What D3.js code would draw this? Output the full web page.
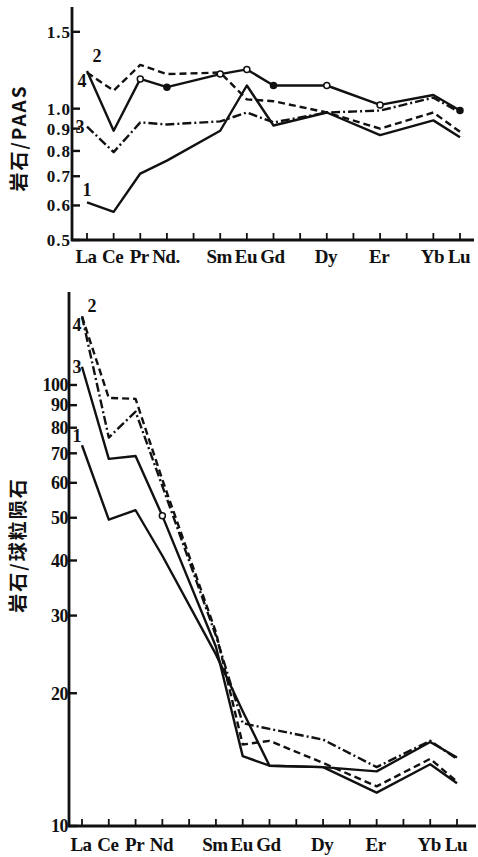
<!DOCTYPE html>
<html><head><meta charset="utf-8">
<script src="https://cdn.jsdelivr.net/npm/d3@7"></script>
<style>
html,body{margin:0;padding:0;background:#fff;}
svg{display:block;}
text{font-family:"Liberation Serif","DejaVu Serif",serif;font-weight:bold;fill:#111;}
</style></head>
<body>
<svg id="c" width="478" height="857"></svg>
<script>
// ---- data ----
const elements = ["La","Ce","Pr","Nd","Pm","Sm","Eu","Gd","Tb","Dy","Ho","Er","Tm","Yb","Lu"];
const topTickLabels = ["La","Ce","Pr","Nd.","","Sm","Eu","Gd","","Dy","","Er","","Yb","Lu"];
const botTickLabels = ["La","Ce","Pr","Nd","","Sm","Eu","Gd","","Dy","","Er","","Yb","Lu"];
const plotted = ["La","Ce","Pr","Nd","Sm","Eu","Gd","Dy","Er","Yb","Lu"];

const topTicks = [0.5,0.6,0.7,0.8,0.9,1.0,1.5];
const topTickText = ["0.5","0.6","0.7","0.8","0.9","1.0","1.5"];
const botTicks = [10,20,30,40,50,60,70,80,90,100];

// top panel: rock / PAAS
const top1 = [0.61,0.58,0.71,0.76,0.89,1.13,0.915,0.98,0.87,0.94,0.86];
const top2 = [1.21,1.10,1.26,1.20,1.21,1.05,1.04,0.98,0.90,0.98,0.885];
const top3 = [0.91,0.795,0.93,0.92,0.935,0.98,0.93,0.98,0.99,1.06,0.98];
const top4 = [1.22,0.89,1.17,1.12,1.20,1.23,1.13,1.13,1.02,1.075,0.99];
const top4Markers = ["Pr","Nd","Sm","Eu","Gd","Dy","Er","Lu"];

// bottom panel: rock / chondrite
const bot1 = [73,49.5,52,41,24.5,18.2,13.7,13.6,11.9,13.8,12.5];
const bot2 = [143,93.5,93,61,27.5,15.3,15.6,13.9,12.3,14.2,12.6];
const bot3 = [110,68,69,50.5,25.5,14.4,13.7,13.6,13.3,15.5,14.3];
const bot4 = [143,76,87,59,27,17.1,16.6,15.7,13.6,15.6,14.2];
const bot3Markers = ["Nd"];

const seriesNames = ["1","2","3","4"];

// ---- drawing ----
const svg = d3.select("#c");
const styles = {
  solid: null,
  dashed: "7,4",
  dashdot: "9,3,2,3"
};

function panel(cfg){
  const g = svg.append("g");
  const x = d3.scaleLinear().domain([0, elements.length-1]).range(cfg.xr);
  const y = d3.scaleLog().domain(cfg.yd).range(cfg.yr);
  const xi = e => x(elements.indexOf(e));

  // axes lines
  g.append("line").attr("x1",cfg.ax).attr("x2",cfg.ax).attr("y1",cfg.yr[1]).attr("y2",cfg.yr[0]+1)
    .attr("stroke","#111").attr("stroke-width",2.8);
  g.append("line").attr("x1",cfg.ax-1).attr("x2",cfg.xEnd).attr("y1",cfg.yr[0]).attr("y2",cfg.yr[0])
    .attr("stroke","#111").attr("stroke-width",2.8);

  // y ticks (inward)
  cfg.yt.forEach((v,i)=>{
    const yy = y(v);
    g.append("line").attr("x1",cfg.ax).attr("x2",cfg.ax+8).attr("y1",yy).attr("y2",yy)
      .attr("stroke","#111").attr("stroke-width",2.4);
    g.append("text").attr("x",cfg.ax-1).attr("y",yy).attr("dy","0.35em")
      .attr("text-anchor","end").attr("font-size",cfg.yfs).style("letter-spacing",cfg.yls)
      .text(cfg.ytText[i]);
  });

  // x ticks (inward, up)
  elements.forEach((e,i)=>{
    const xx = x(i);
    g.append("line").attr("x1",xx).attr("x2",xx).attr("y1",cfg.yr[0]).attr("y2",cfg.yr[0]-7)
      .attr("stroke","#111").attr("stroke-width",1.8);
    if(cfg.xl[i]) g.append("text").attr("x",xx - 1).attr("y",cfg.yr[0]+cfg.xlOff)
      .attr("text-anchor","middle").attr("font-size",19).style("letter-spacing","-0.5px").text(cfg.xl[i]);
  });

  // y label
  g.append("text").attr("transform",`translate(${cfg.ylx},${cfg.yly}) rotate(-90)`)
    .attr("text-anchor","middle").attr("font-size",19)
    .style("font-family","'Noto Sans CJK SC','Liberation Sans',sans-serif").style("letter-spacing","2px")
    .text(cfg.ylabel);

  const line = d3.line().x(d=>xi(d.e)).y(d=>y(d.v)).curve(d3.curveLinear);
  cfg.series.forEach(s=>{
    const data = plotted.map((e,i)=>({e, v:s.vals[i]}));
    g.append("path").datum(data).attr("d",line).attr("fill","none")
      .attr("stroke","#111").attr("stroke-width",s.w||2.4)
      .attr("stroke-linejoin","round")
      .attr("stroke-dasharray",styles[s.style]);
    if(s.markers){
      s.markers.forEach((m,k)=>{
        const v = s.vals[plotted.indexOf(m)];
        g.append("circle").attr("cx",xi(m)).attr("cy",y(v)).attr("r",3)
          .attr("fill", k%3===1 ? "#111" : "#fff").attr("stroke","#111").attr("stroke-width",1.5);
      });
    }
    g.append("text").attr("x",xi("La")+s.lx).attr("y",y(s.vals[0])+s.ly)
      .attr("text-anchor","middle").attr("font-size",18).text(s.name);
  });
}

panel({
  xr:[87,460], yd:[0.5,1.71], yr:[240,7], ax:72, xEnd:474,
  yt: topTicks, ytText: topTickText, yfs:17, yls:"1px", xl: topTickLabels, xlOff:23,
  ylx:26, yly:138, ylabel:"岩石/PAAS",
  series:[
    {name:seriesNames[0], vals:top1, style:"solid", lx:0, ly:-6},
    {name:seriesNames[1], vals:top2, style:"dashed", lx:10, ly:-11},
    {name:seriesNames[2], vals:top3, style:"dashdot", lx:-7, ly:6},
    {name:seriesNames[3], vals:top4, style:"solid", lx:-5, ly:16, markers:top4Markers}
  ]
});

panel({
  xr:[82,457], yd:[10,162.5], yr:[826,292], ax:69, xEnd:476,
  yt: botTicks, ytText: botTicks.map(String), yfs:18, yls:"-0.5px", xl: botTickLabels, xlOff:25,
  ylx:25, yly:545, ylabel:"岩石/球粒陨石",
  series:[
    {name:seriesNames[0], vals:bot1, style:"solid", lx:-5, ly:-3},
    {name:seriesNames[1], vals:bot2, style:"dashed", lx:10, ly:-4},
    {name:seriesNames[2], vals:bot3, style:"solid", lx:-5, ly:6, markers:bot3Markers},
    {name:seriesNames[3], vals:bot4, style:"dashdot", lx:-5, ly:15}
  ]
});
</script>
</body></html>
